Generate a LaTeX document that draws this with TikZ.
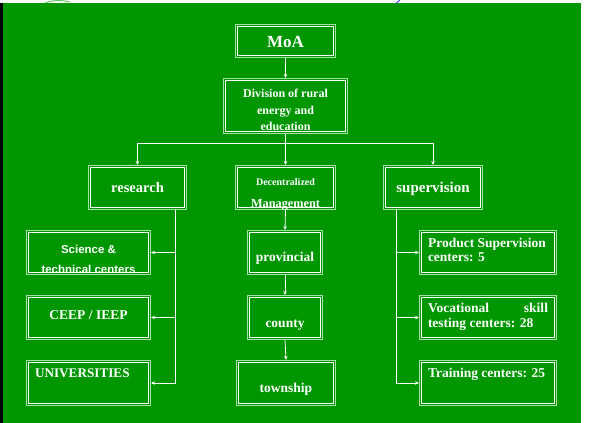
\documentclass[tikz,border=0pt]{standalone}
\usepackage{fontspec}
\setmainfont{Liberation Serif}
\newfontfamily\arialfont{Liberation Sans}
\usetikzlibrary{arrows.meta,calc}
\definecolor{bgreen}{HTML}{009600}
\definecolor{boxline}{HTML}{A6E2A6}
\tikzset{
  box/.style={rectangle, inner sep=0pt, outer sep=0pt},
  outerl/.style={draw=boxline, line width=1.2pt},
  innerl/.style={draw=white, line width=0.8pt},
  lbl/.style={text=white, inner sep=0pt, outer sep=0pt},
  conn/.style={draw=white, line width=0.8pt},
  arr/.style={conn, -{Stealth[length=4pt,width=3.5pt]}}
}
\begin{document}
\begin{tikzpicture}[x=1pt,y=-1pt]
\useasboundingbox (0,0) rectangle (608,423);
\fill[white] (0,0) rectangle (608,423);
\fill[bgreen] (3,3) rectangle (581,423);
\fill[black] (0,3) rectangle (3,423);
\draw[green!60!black!60, line width=1pt] (45,3) .. controls (52,0) and (62,0) .. (70,2);
\draw[blue!70, line width=1pt] (396,3) .. controls (398,2) and (399,1) .. (400,0);

% boxes
\node[box, minimum width=101, minimum height=34] (moa) at (285.5,41) {};
\node[box, minimum width=125, minimum height=56] (div) at (285.5,106) {};
\node[box, minimum width=99, minimum height=45] (research) at (137.5,187.5) {};
\node[box, minimum width=101, minimum height=45] (decen) at (285.5,187.5) {};
\node[box, minimum width=100, minimum height=45] (superv) at (433,187.5) {};
\node[box, minimum width=125, minimum height=45] (sci) at (88.5,252.5) {};
\node[box, minimum width=125, minimum height=45] (ceep) at (88.5,317.5) {};
\node[box, minimum width=125, minimum height=46] (univ) at (88.5,383) {};
\node[box, minimum width=76, minimum height=45] (prov) at (285,252.5) {};
\node[box, minimum width=76, minimum height=45] (county) at (285,317.5) {};
\node[box, minimum width=100, minimum height=46] (town) at (286,383) {};
\node[box, minimum width=138, minimum height=45] (prod) at (488,252.5) {};
\node[box, minimum width=138, minimum height=45] (voc) at (488,317.5) {};
\node[box, minimum width=138, minimum height=46] (train) at (488,383) {};

\foreach \n in {moa,div,research,decen,superv,sci,ceep,univ,prov,county,town,prod,voc,train}{
  \draw[outerl] ([shift={(0.6pt,0.6pt)}]\n.south west) rectangle ([shift={(-0.6pt,-0.6pt)}]\n.north east);
  \draw[innerl] ([shift={(2.6pt,2.6pt)}]\n.south west) rectangle ([shift={(-2.6pt,-2.6pt)}]\n.north east);
}

% labels
\node[lbl, anchor=base, font=\bfseries\fontsize{17}{18}\selectfont] (tmoa) at (285.5,47) {MoA};
\node[lbl, anchor=base, font=\bfseries\fontsize{12}{14}\selectfont] (tdiv1) at (285.5,97) {Division of rural};
\node[lbl, anchor=base, font=\bfseries\fontsize{12}{14}\selectfont] (tdiv2) at (285.5,114) {energy and};
\node[lbl, anchor=base, font=\bfseries\fontsize{12}{14}\selectfont] (tdiv3) at (285.5,130.5) {education};
\node[lbl, anchor=base, font=\bfseries\fontsize{14.5}{16}\selectfont] (tres) at (137.5,192) {research};
\node[lbl, anchor=base, font=\bfseries\fontsize{10}{12}\selectfont] (tdec1) at (285.5,185) {Decentralized};
\node[lbl, anchor=base, font=\bfseries\fontsize{12.3}{14}\selectfont] (tdec2) at (285.5,207) {Management};
\node[lbl, anchor=base, font=\bfseries\fontsize{15}{16}\selectfont] (tsup) at (433,192) {supervision};
\node[lbl, anchor=base, font=\arialfont\bfseries\fontsize{11.5}{13}\selectfont] (tsci1) at (88.5,253) {Science \&};
\node[lbl, anchor=base, font=\arialfont\bfseries\fontsize{11.5}{13}\selectfont] (tsci2) at (88.5,273) {technical centers};
\node[lbl, anchor=base, font=\bfseries\fontsize{13.5}{15}\selectfont] (tceep) at (88.5,319) {CEEP / IEEP};
\node[lbl, anchor=base west, font=\bfseries\fontsize{13.2}{15}\selectfont] (tuniv) at (35,377) {UNIVERSITIES};
\node[lbl, anchor=base, font=\bfseries\fontsize{13.5}{15}\selectfont] (tprov) at (285,261) {provincial};
\node[lbl, anchor=base, font=\bfseries\fontsize{13.5}{15}\selectfont] (tcounty) at (285,327) {county};
\node[lbl, anchor=base, font=\bfseries\fontsize{13.5}{15}\selectfont] (ttown) at (286,392) {township};
\node[lbl, anchor=base west, font=\bfseries\fontsize{13.5}{15}\selectfont] (tprod1) at (428,247) {Product Supervision};
\node[lbl, anchor=base west, font=\bfseries\fontsize{13.5}{15}\selectfont] (tprod2) at (428,261) {centers: 5};
\node[lbl, anchor=base west, font=\bfseries\fontsize{13.5}{15}\selectfont] (tvoc1) at (428,312) {\hbox to 120pt{Vocational\hfill skill}};
\node[lbl, anchor=base west, font=\bfseries\fontsize{13.5}{15}\selectfont] (tvoc2) at (428,327) {testing centers: 28};
\node[lbl, anchor=base west, font=\bfseries\fontsize{13.5}{15}\selectfont] (ttrain) at (428,377) {Training centers: 25};

% connectors
\coordinate (j) at ($(div.south)+(0,9)$);
\draw[arr] (moa.south) -- (div.north);
\draw[conn] (div.south) -- (j);
\draw[arr] (j) -| (research.north);
\draw[arr] (j) -| (superv.north);
\draw[arr] (j) -- (decen.north);

\coordinate (rb) at ($(research.south east)+(-12,0)$);
\draw[arr] (rb) |- (sci.east);
\draw[arr] (rb) |- (ceep.east);
\draw[arr] (rb) |- (univ.east);

\coordinate (sb) at ($(superv.south west)+(13,0)$);
\draw[arr] (sb) |- (prod.west);
\draw[arr] (sb) |- (voc.west);
\draw[arr] (sb) |- (train.west);

\draw[arr] (decen.south) -- (prov.north);
\draw[arr] (prov.south) -- (county.north);
\draw[arr] (county.south) -- (town.north);
\end{tikzpicture}
\end{document}
